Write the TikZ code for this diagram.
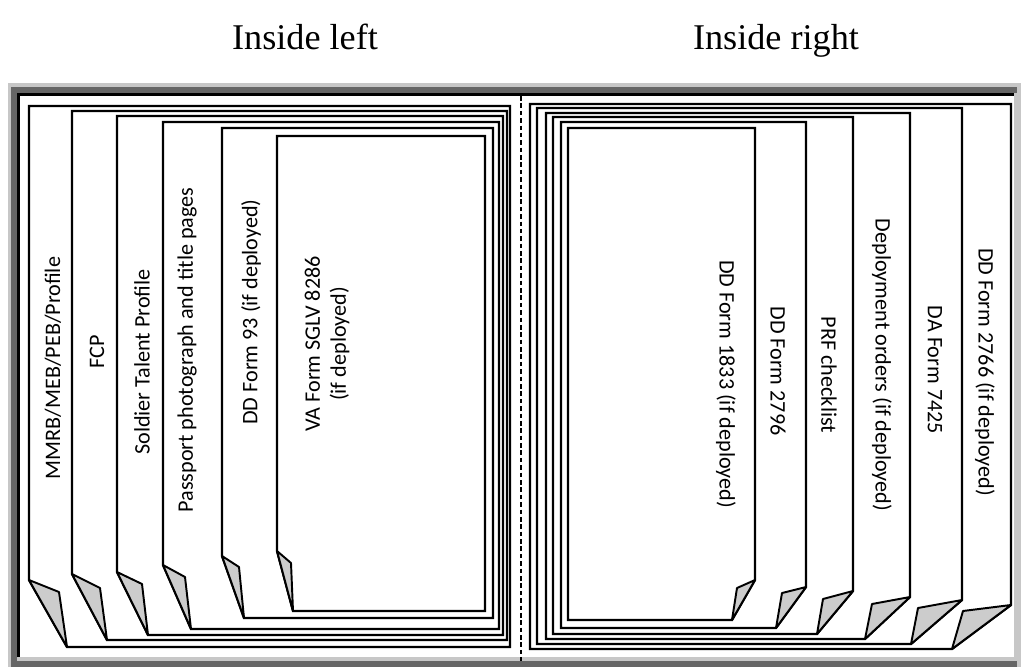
\documentclass[tikz,border=0pt]{standalone}
\usepackage{fontspec}
\setmainfont{Liberation Serif}
\newfontfamily\lblfont{Carlito}
\tikzset{
  page/.style={draw=black, fill=white, line width=0.65pt, line join=miter},
  flap/.style={draw=black, fill=gray!40, line width=0.55pt, line join=round},
  lbl/.style={font=\lblfont\fontsize{6.3}{7.4}\selectfont, inner sep=0pt, align=center},
  ttl/.style={font=\fontsize{10.3}{12}\selectfont, inner sep=0pt, anchor=base}
}
\begin{document}
\begin{tikzpicture}[x=0.01cm, y=-0.01cm]
  \useasboundingbox (0,0) rectangle (1021,667);
  % Titres
  \node[ttl] (tleft) at (305,50) {Inside left};
  \node[ttl] (tright) at (776,50) {Inside right};
  % Cadre du dossier
  \fill[black!22] (8,83) rectangle (1021,667);
  \fill[black!60] (11,87) rectangle (1017,667);
  \fill[black!22] (17,93) rectangle (1017,661);
  \fill[white] (20,96) rectangle (1014,657);
  \draw[line width=0.85pt] (18.5,657) -- (18.5,94.5) -- (1014,94.5);
  \draw[dash pattern=on 1.3pt off 0.8pt, line width=0.6pt] (521,96) -- (521,661);
  % Feuilles de gauche (coin plie en bas a gauche)
  \draw[page] (29,106) -- (510,106) -- (510,647) -- (67,647) -- (29,580) -- cycle;
  \draw[flap] (29,580) -- (59,592) -- (67,647) -- cycle;
  \draw[page] (72,111) -- (507,111) -- (507,640) -- (107,640) -- (72,574) -- cycle;
  \draw[flap] (72,574) -- (100,588) -- (107,640) -- cycle;
  \draw[page] (117,116) -- (503,116) -- (503,635) -- (148,635) -- (117,572) -- cycle;
  \draw[flap] (117,572) -- (142,584) -- (148,635) -- cycle;
  \draw[page] (163,122) -- (499,122) -- (499,629) -- (191,629) -- (163,565) -- cycle;
  \draw[flap] (163,565) -- (185,577) -- (191,629) -- cycle;
  \draw[page] (222,128) -- (493,128) -- (493,618) -- (244,618) -- (222,556) -- cycle;
  \draw[flap] (222,556) -- (239,567) -- (244,618) -- cycle;
  \draw[page] (277,136) -- (485,136) -- (485,611) -- (293,611) -- (277,551) -- cycle;
  \draw[flap] (277,551) -- (291,563) -- (293,611) -- cycle;
  % Feuilles de droite (coin plie en bas a droite)
  \draw[page] (530,104) -- (1011,104) -- (1011,605) -- (952,649) -- (530,649) -- cycle;
  \draw[flap] (1011,605) -- (963,611) -- (952,649) -- cycle;
  \draw[page] (537,108) -- (962,108) -- (962,600) -- (911,644) -- (537,644) -- cycle;
  \draw[flap] (962,600) -- (918,608) -- (911,644) -- cycle;
  \draw[page] (546,113) -- (910,113) -- (910,597) -- (865,639) -- (546,639) -- cycle;
  \draw[flap] (910,597) -- (872,604) -- (865,639) -- cycle;
  \draw[page] (553,117) -- (853,117) -- (853,591) -- (817,634) -- (553,634) -- cycle;
  \draw[flap] (853,591) -- (823,599) -- (817,634) -- cycle;
  \draw[page] (561,122) -- (806,122) -- (806,587) -- (776,628) -- (561,628) -- cycle;
  \draw[flap] (806,587) -- (782,593) -- (776,628) -- cycle;
  \draw[page] (568,128) -- (755,128) -- (755,580) -- (732,620) -- (568,620) -- cycle;
  \draw[flap] (755,580) -- (737,588) -- (732,620) -- cycle;
  % Etiquettes de gauche
  \node[lbl, rotate=90] (mmrb) at (53,368) {MMRB/MEB/PEB/Profile};
  \node[lbl, rotate=90] (fcp) at (97,352) {FCP};
  \node[lbl, rotate=90] (talent) at (142,362) {Soldier Talent Profile};
  \node[lbl, rotate=90] (passport) at (187,350) {Passport photograph and title pages};
  \node[lbl, rotate=90] (dd93) at (251,312) {DD Form 93 (if deployed)};
  \node[lbl, rotate=90] (sglv) at (327,344) {VA Form SGLV 8286\\(if deployed)};
  % Etiquettes de droite
  \node[lbl, rotate=-90] (dd1833) at (726,384) {DD Form 1833 (if deployed)};
  \node[lbl, rotate=-90] (dd2796) at (778,371) {DD Form 2796};
  \node[lbl, rotate=-90] (prf) at (829,375) {PRF checklist};
  \node[lbl, rotate=-90] (orders) at (882,365) {Deployment orders (if deployed)};
  \node[lbl, rotate=-90] (da7425) at (935,370) {DA Form 7425};
  \node[lbl, rotate=-90] (dd2766) at (985,372) {DD Form 2766 (if deployed)};
\end{tikzpicture}
\end{document}
